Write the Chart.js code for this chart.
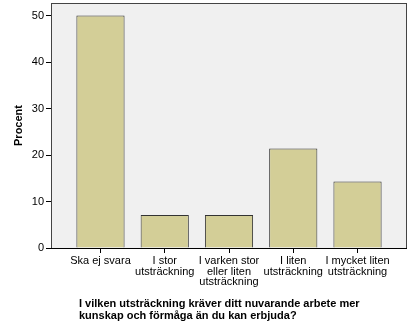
<!DOCTYPE html>
<html>
<head>
<meta charset="utf-8">
<script src="https://cdn.jsdelivr.net/npm/chart.js@4.4.0/dist/chart.umd.min.js"></script>
<style>
    html, body { margin: 0; padding: 0; background: #fff; }
</style>
</head>
<body>
<canvas id="chart" width="412" height="330"></canvas>
<script>
// Data
const categories = [
    ['Ska ej svara'],
    ['I stor', 'utsträckning'],
    ['I varken stor', 'eller liten', 'utsträckning'],
    ['I liten', 'utsträckning'],
    ['I mycket liten', 'utsträckning'],
];
const percentValues = [50.0, 7.1, 7.1, 21.4, 14.3];
const yTicks = [0, 10, 20, 30, 40, 50];
const yTitle = 'Procent';
const xTitleLines = [
    'I vilken utsträckning kräver ditt nuvarande arbete mer',
    'kunskap och förmåga än du kan erbjuda?',
];

const FONT = 'Arial, "Liberation Sans", sans-serif';

// Grey plot background + frame, SPSS style
const plotFrame = {
    id: 'plotFrame',
    beforeDatasetsDraw(chart) {
        const { ctx, chartArea: a } = chart;
        ctx.save();
        ctx.fillStyle = '#f0f0f0';
        ctx.fillRect(a.left, a.top, a.right - a.left, a.bottom - a.top);
        ctx.restore();
    },
    afterDatasetsDraw(chart) {
        const { ctx, chartArea: a } = chart;
        ctx.save();
        ctx.lineWidth = 1;
        ctx.strokeStyle = '#444';
        ctx.strokeRect(a.left + 0.5, a.top + 0.5, a.right - a.left - 1, a.bottom - a.top);
        ctx.strokeStyle = '#000';
        ctx.beginPath();
        ctx.moveTo(a.left, a.bottom + 0.5);
        ctx.lineTo(a.right, a.bottom + 0.5);
        ctx.stroke();
        ctx.restore();
    },
};

// Left-aligned two line x title
const xTitle = {
    id: 'xTitle',
    afterDraw(chart) {
        const { ctx, chartArea: a } = chart;
        ctx.save();
        ctx.font = 'bold 11px ' + FONT;
        ctx.fillStyle = '#000';
        ctx.textAlign = 'left';
        ctx.textBaseline = 'alphabetic';
        xTitleLines.forEach((line, i) => {
            ctx.fillText(line, a.left + 28, a.bottom + 59 + i * 11.5);
        });
        ctx.restore();
    },
};

// fixed axis sizes, no extra label padding
function fixSize(prop, size) {
    return (scale) => {
        scale[prop] = size;
        scale.paddingTop = 0;
        scale.paddingBottom = 0;
        scale.paddingLeft = 0;
        scale.paddingRight = 0;
    };
}

const ctx = document.getElementById('chart').getContext('2d');
new Chart(ctx, {
    type: 'bar',
    data: {
        datasets: [
            {
                data: percentValues.map((v, i) => ({ x: i, y: v })),
                backgroundColor: '#d3ce97',
                borderColor: '#333',
                borderWidth: 1,
                barPercentage: 0.75,
                categoryPercentage: 1,
            },
        ],
    },
    options: {
        responsive: false,
        animation: false,
        layout: { padding: { top: 3, right: 5, left: 0, bottom: 0 } },
        plugins: {
            legend: { display: false },
            tooltip: { enabled: false },
        },
        scales: {
            x: {
                type: 'linear',
                offset: false,
                min: -0.77,
                max: 4.77,
                afterBuildTicks: (scale) => {
                    scale.ticks = categories.map((_, i) => ({ value: i }));
                },
                afterFit: fixSize('height', 82),
                grid: { drawOnChartArea: false, offset: false, tickLength: 5, color: '#000' },
                border: { display: false },
                ticks: {
                    autoSkip: false,
                    maxRotation: 0,
                    padding: 3,
                    color: '#000',
                    font: { family: FONT, size: 11, lineHeight: 0.95 },
                    callback: (value) => categories[Math.round(value)],
                },
            },
            y: {
                min: 0,
                max: 52.7,
                afterBuildTicks: (scale) => {
                    scale.ticks = yTicks.map((v) => ({ value: v }));
                },
                afterFit: fixSize('width', 51),
                grid: { drawOnChartArea: false, tickLength: 5, color: '#000' },
                border: { display: false },
                ticks: {
                    padding: 2,
                    color: '#000',
                    font: { family: FONT, size: 11 },
                },
                title: {
                    display: true,
                    text: yTitle,
                    color: '#000',
                    padding: { top: 12, bottom: 0 },
                    font: { family: FONT, size: 11, weight: 'bold' },
                },
            },
        },
    },
    plugins: [plotFrame, xTitle],
});
</script>
</body>
</html>
